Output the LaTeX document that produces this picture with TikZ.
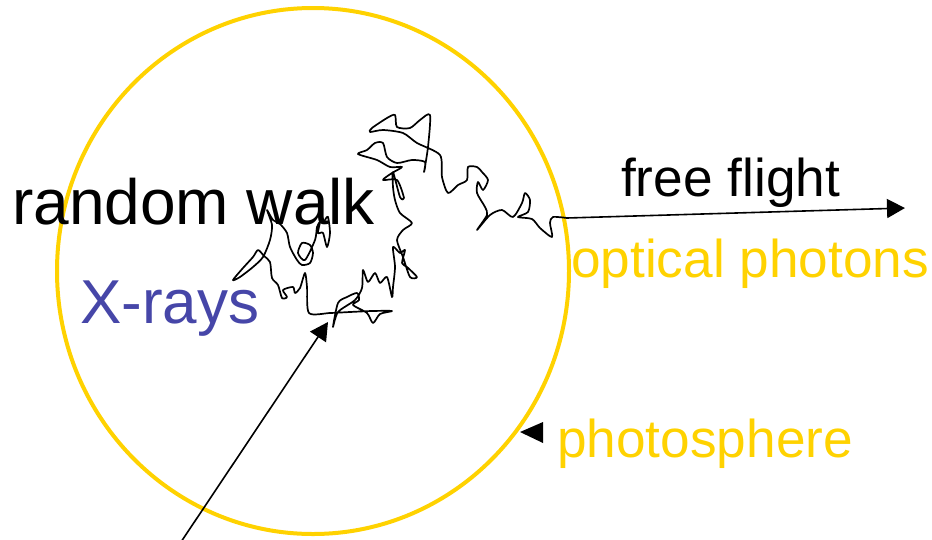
\documentclass[tikz,border=0pt]{standalone}
\usepackage{fontspec}
\setmainfont{Liberation Sans}
\usetikzlibrary{arrows.meta}
\definecolor{gold}{RGB}{255,210,0}
\definecolor{xblue}{RGB}{70,70,168}
\tikzset{
  lbl/.style={inner sep=0pt, anchor=base west},
  bigtxt/.style={font=\fontsize{64}{70}\selectfont},
  midtxt/.style={font=\fontsize{53.2}{60}\selectfont},
  arr/.style={line width=1.6pt, -{Triangle[length=18pt,width=19pt]}},
  walk/.style={line width=1.7pt, line join=round, line cap=round},
  sphere/.style={draw=gold, line width=4pt}
}
\begin{document}
\begin{tikzpicture}[x=1pt,y=-1pt]
\useasboundingbox (0,0) rectangle (932,539);
% photosphere
\draw[sphere] (313,271) ellipse [x radius=256pt, y radius=263pt];
% labels
\node[lbl,bigtxt,text=black] (rw) at (12,224) {random walk};
\node[lbl,font=\fontsize{62}{68}\selectfont,text=xblue] (xr) at (80,323) {X-rays};
\node[lbl,midtxt,text=black] (ff) at (621,196) {free flight};
\node[lbl,midtxt,text=gold] (op) at (571,277) {optical photons};
\node[lbl,midtxt,text=gold] (ph) at (557,457) {photosphere};
% random walk
\draw[walk] plot[smooth, tension=0.45] coordinates {
(325,220) (328,217) (330,233) (327,247) (323,233) (318,233) (320,222) (317,227)
(315,240) (305,260) (298,253) (302,243) (310,245) (313,253) (310,263) (302,265)
(297,260) (290,247) (287,233) (280,224) (273,220) (267,210) (272,225) (270,240)
(263,257) (253,267) (240,277) (233,280) (243,268) (253,257) (258,250) (264,256)
(270,262) (272,278) (278,285) (282,298) (287,297) (283,290) (293,287) (295,293)
(300,288) (305,273) (307,287) (309,313) (330,313) (350,312) (372,311) (392,311)
(380,314) (373,323) (367,313) (353,305) (359,300) (357,293) (347,297) (338,303)
(333,327) (338,312) (355,300) (362,288) (363,270) (368,282) (375,273) (380,283)
(387,277) (392,297) (393,287) (395,267) (393,247) (400,253) (405,250) (402,263)
(407,267) (417,277) (410,277) (403,257) (397,240) (403,230) (412,223) (400,213)
(395,200) (393,187) (393,172) (400,197) (404,198) (397,180) (383,180) (392,173)
(402,167) (390,167) (377,160) (358,154) (367,150) (375,143) (383,143) (387,157)
(397,163) (412,160) (425,162) (424,172) (428,147) (430,115) (420,120) (410,128)
(397,127) (395,115) (387,118) (372,128) (370,132) (383,130) (403,133) (417,143)
(440,155) (442,177) (448,193) (458,185) (467,180) (468,167) (477,167) (482,172)
(488,180) (483,190) (478,182) (477,193) (485,207) (487,215) (477,230) (490,215)
(502,210) (513,217) (522,203) (525,193) (530,200) (528,212) (518,217) (532,219)
(540,228) (552,237) (550,223) (553,217) (567,218)};
% arrows
\coordinate (xs) at (181,542);
\coordinate (xt) at (328,322);
\draw[arr] (xs) -- (xt);
\coordinate (ffs) at (567,218);
\coordinate (fft) at (905,208);
\draw[arr] (ffs) -- (fft);
% photosphere pointer
\coordinate (pt) at (520,432);
\fill (pt) -- ++(23,-10) -- ++(0,21) -- cycle;
\end{tikzpicture}
\end{document}
